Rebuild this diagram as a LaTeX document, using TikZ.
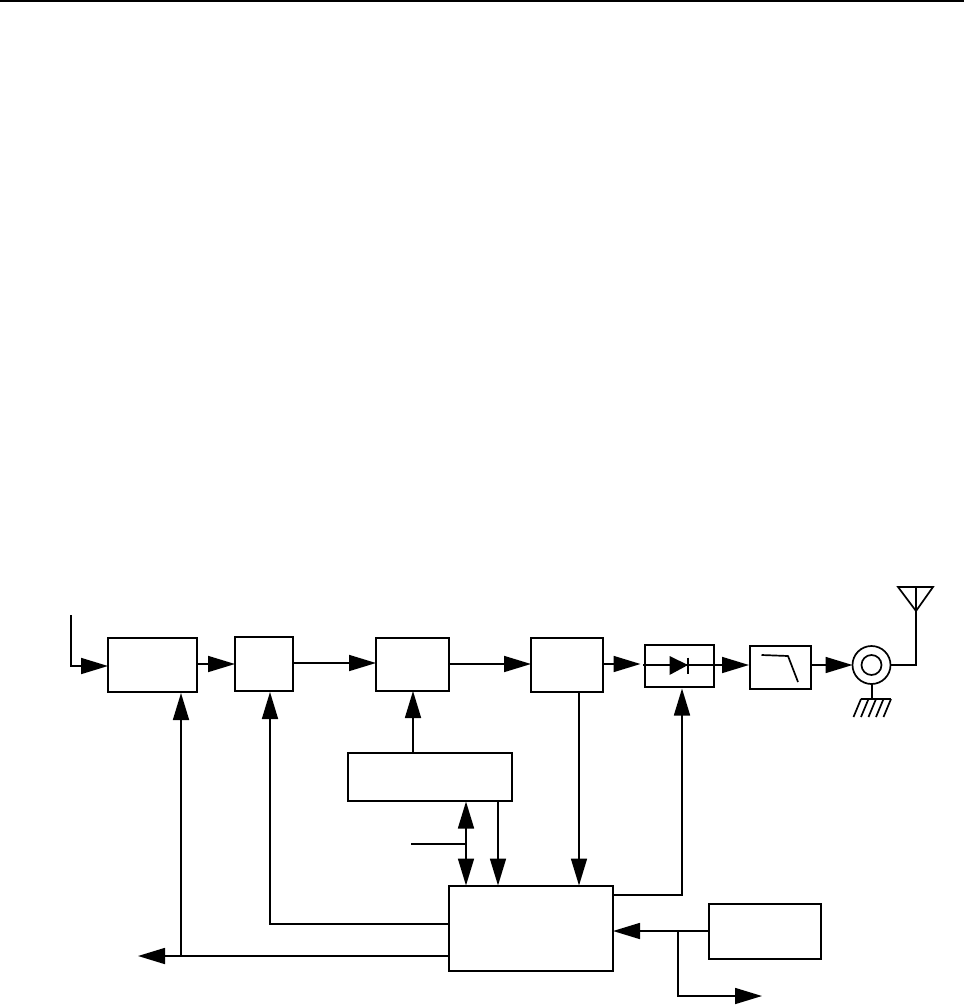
\documentclass[tikz,border=0pt]{standalone}
\usetikzlibrary{arrows.meta,calc}
\tikzset{
  blk/.style={draw=black,line width=1.7pt,fill=none,inner sep=0pt,outer sep=0pt,rectangle},
  wire/.style={draw=black,line width=1.7pt,line cap=butt,line join=miter},
  arr/.style={wire,-{Triangle[length=27pt,width=16pt]}},
  arrb/.style={wire,{Triangle[length=27pt,width=16pt]}-},
  sym/.style={draw=black,line width=1.7pt},
}
\begin{document}
\begin{tikzpicture}[x=1pt,y=-1pt]
\useasboundingbox (0,0) rectangle (964,1006);
\path[fill=white] (0,0) rectangle (964,1006);
\draw[line width=1.7pt] (0,1) -- (964,1);
% blocks
\node[blk,minimum width=89pt,minimum height=54pt] (A) at (152.5,665) {};
\node[blk,minimum width=58pt,minimum height=54pt] (B) at (264,664) {};
\node[blk,minimum width=73pt,minimum height=53pt] (C) at (412.5,664.5) {};
\node[blk,minimum width=72pt,minimum height=54pt] (D) at (567,665) {};
\node[blk,minimum width=69pt,minimum height=42pt] (E) at (679.5,666) {};
\node[blk,minimum width=61pt,minimum height=43pt] (F) at (780.5,667.5) {};
\node[blk,minimum width=164pt,minimum height=48pt] (G) at (430,777) {};
\node[blk,minimum width=164pt,minimum height=85pt] (H) at (531,928.5) {};
\node[blk,minimum width=112pt,minimum height=55pt] (I) at (765,931.5) {};
\node[draw=black,line width=1.7pt,circle,minimum size=38pt,inner sep=0pt,outer sep=0pt] (J) at (871.5,665) {};
\node[draw=black,line width=1.7pt,circle,minimum size=20pt,inner sep=0pt] (J2) at (871.5,665) {};
% free ends and junctions
\coordinate (in) at (71,615);
\coordinate (inb) at (71,666);
\coordinate (ant) at (916,587);
\coordinate (antc) at (916,665);
\coordinate (gnd) at (872,699);
\coordinate (outL) at (138,956);
\coordinate (ctl) at (411,844);
\coordinate (ctlj) at (466,844);
\coordinate (gm) at (466,829);
\coordinate (jA) at (181,956);
\coordinate (jB) at (270,924);
\coordinate (jE) at (682,895);
\coordinate (jI) at (678,931);
\coordinate (jO) at (678,996);
\coordinate (outR) at (762,996);
% main chain
\draw[arr] (in) -- (inb) -- (inb -| A.west);
\draw[arr] (A.east |- 0,664) -- (B.west |- 0,664);
\draw[arr] (B.east |- 0,663) -- (C.west |- 0,663);
\draw[arr] (C.east |- 0,664) -- (D.west |- 0,664);
\draw[arr] (D.east |- 0,664) -- ++(37.5,0);
\draw[wire] (643,665) -- (720,665);
\draw[arr] (714,665) -- (749,665);
\draw[arr] (F.east |- J.west) -- (J.west);
\draw[wire] (J.east) -- (antc) -- (ant);
% diode
\fill[black] (669.5,656) -- (688,665) -- (669.5,675) -- cycle;
\draw[sym] (688,657.5) -- (688,673.5);
% filter curve
\draw[sym,line join=round] (761.5,655) -- (788,656) -- (798,682);
% antenna
\draw[sym,line join=miter] (898,587) -- (933,587) -- (916,611) -- cycle;
% ground
\draw[sym] (872,684) -- (gnd);
\draw[sym] (861,699) -- (891,699);
\foreach \gx in {861,868.5,876,883.5,891}{
  \draw[sym] (\gx,699) -- (\gx-7.5,717);
}
% feedback
\draw[arr] (G.north -| 413,0) -- (C.south -| 413,0);
\draw[arr] (D.south -| 579,0) -- (579,885.5);
\draw[arrb] (466,801.5) -- (gm);
\draw[arr] (gm) -- (466,885.5);
\draw[wire] (ctl) -- (ctlj);
\draw[arr] (498,801) -- (498,885.5);
\draw[arr] (H.west |- jB) -- (jB) -- (270,692);
\draw[arr] (H.west |- jA) -- (outL);
\draw[arr] (jA) -- (181,693);
\draw[arr] (H.east |- jE) -- (jE) -- (682,688.5);
\draw[arr] (I.west |- jI) -- (H.east |- jI);
\draw[arr] (jI) -- (jO) -- (outR);
\end{tikzpicture}
\end{document}
